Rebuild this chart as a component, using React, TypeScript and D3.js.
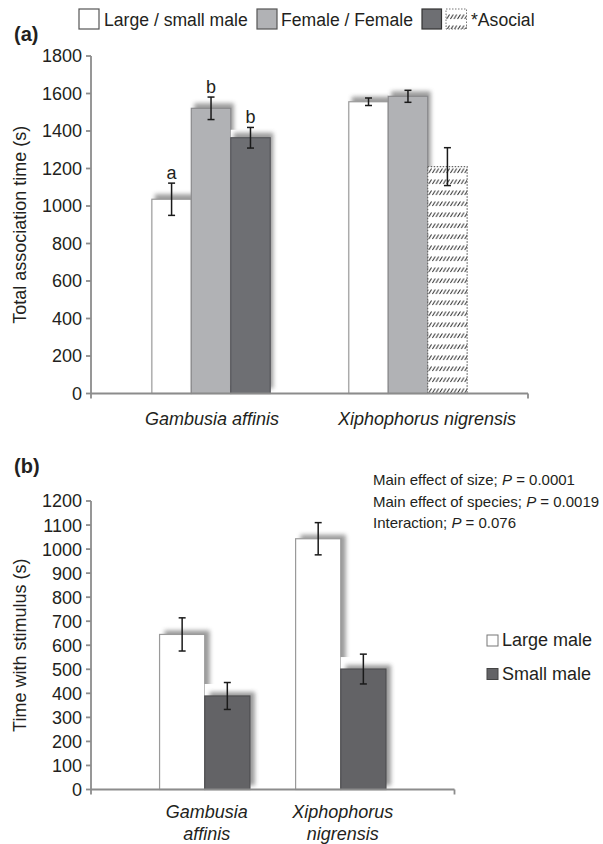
import React from "react"
import * as d3 from "d3"

const FONT = "'Liberation Sans', Arial, Helvetica, sans-serif"

// panel (a): total association time
const SPECIES_A = ["Gambusia affinis", "Xiphophorus nigrensis"]
const TREATMENTS_A = ["Large / small male", "Female / Female", "*Asocial"]
const LARGE_SMALL_MEAN = [1036, 1556]
const LARGE_SMALL_SE = [86, 20]
const FEMALE_MEAN = [1521, 1585]
const FEMALE_SE = [60, 32]
const ASOCIAL_MEAN = [1364, 1210]
const ASOCIAL_SE = [55, 101]
const ASOCIAL_HATCHED = [false, true]
const LETTERS_A = [
  ["a", "b", "b"],
  ["", "", ""],
]
const TICKS_A = [0, 200, 400, 600, 800, 1000, 1200, 1400, 1600, 1800]

// panel (b): time with stimulus
const SPECIES_B = [
  ["Gambusia", "affinis"],
  ["Xiphophorus", "nigrensis"],
]
const SIZES_B = ["Large male", "Small male"]
const LARGE_MEAN = [645, 1043]
const LARGE_SE = [69, 67]
const SMALL_MEAN = [389, 501]
const SMALL_SE = [56, 62]
const TICKS_B = [0, 100, 200, 300, 400, 500, 600, 700, 800, 900, 1000, 1100, 1200]
const STATS_B = [
  ["Main effect of size; ", "0.0001"],
  ["Main effect of species; ", "0.0019"],
  ["Interaction; ", "0.076"],
]

const WHITE = "#ffffff"
const GREY = "#b1b2b5"
const DARK_A = "#6e6f73"
const DARK_B = "#636366"
const AXIS = "#8c8c8c"
const INK = "#231f20"

function Bar({ x, y, w, h, fill, stroke, hatched, shadow, dx, dy, notch }) {
  return (
    <g>
      {shadow && <rect x={x} y={y - notch} width={w} height={h} fill="#fff" />}
      {shadow && (
        <rect x={x + dx} y={y + dy} width={w} height={h} fill="#7a7a7a" opacity={0.75} filter="url(#soft)" />
      )}
      <rect
        x={x}
        y={y}
        width={w}
        height={h}
        fill={hatched ? "url(#hatch)" : fill}
        stroke={stroke}
        strokeWidth={1.2}
        strokeDasharray={hatched ? "1.5,1.5" : undefined}
      />
    </g>
  )
}

function ErrBar({ cx, top, bottom }) {
  return (
    <g stroke="#1a1a1a" strokeWidth={1.5}>
      <line x1={cx} x2={cx} y1={top} y2={bottom} />
      <line x1={cx - 3.5} x2={cx + 3.5} y1={top} y2={top} />
      <line x1={cx - 3.5} x2={cx + 3.5} y1={bottom} y2={bottom} />
    </g>
  )
}

export default function App() {
  // ---- panel (a) scales
  const yA = d3.scaleLinear().domain([0, 1800]).range([393.5, 56])
  const xA = d3.scaleBand().domain(SPECIES_A).range([91, 528]).paddingInner(0.399).paddingOuter(0.309)
  const subA = d3.scaleBand().domain(TREATMENTS_A).range([0, xA.bandwidth()])
  const labelA = d3.scalePoint().domain(SPECIES_A).range([212, 427])

  const seriesA = [
    { key: TREATMENTS_A[0], mean: LARGE_SMALL_MEAN, se: LARGE_SMALL_SE, fill: WHITE, stroke: "#9a9a9a" },
    { key: TREATMENTS_A[1], mean: FEMALE_MEAN, se: FEMALE_SE, fill: GREY, stroke: "#8a8a8d" },
    { key: TREATMENTS_A[2], mean: ASOCIAL_MEAN, se: ASOCIAL_SE, fill: DARK_A, stroke: "#55565a" },
  ]

  // ---- panel (b) scales
  const namesB = SPECIES_B.map((d) => d.join(" "))
  const yB = d3.scaleLinear().domain([0, 1200]).range([789.5, 501])
  const xB = d3.scaleBand().domain(namesB).range([91, 454.5]).paddingInner(0.336).paddingOuter(0.504)
  const subB = d3.scaleBand().domain(SIZES_B).range([0, xB.bandwidth()])

  const seriesB = [
    { key: SIZES_B[0], mean: LARGE_MEAN, se: LARGE_SE, fill: WHITE, stroke: "#9a9a9a" },
    { key: SIZES_B[1], mean: SMALL_MEAN, se: SMALL_SE, fill: DARK_B, stroke: "#4e4e51" },
  ]

  const y0A = yA(0)
  const y0B = yB(0)

  return (
    <svg
      width={603}
      height={844}
      style={{ position: "absolute", left: 0, top: 0, background: "#fff" }}
      fontFamily={FONT}
    >
      <defs>
        <filter id="soft" x="-30%" y="-30%" width="160%" height="160%">
          <feGaussianBlur stdDeviation="2.2" />
        </filter>
        <pattern id="hatch" patternUnits="userSpaceOnUse" width="3.6" height="11">
          <rect width="3.6" height="11" fill="#fff" />
          <line x1="0.4" y1="8" x2="3.2" y2="3.5" stroke="#2a2a2a" strokeWidth="1" />
        </pattern>
      </defs>

      {/* ================= panel (a) ================= */}
      <text x={14} y={41} fontSize={20} fontWeight="bold" fill={INK}>
        (a)
      </text>

      {/* legend (a) */}
      <g fontSize={17.6} fill={INK}>
        <rect x={79} y={9} width={20} height={20} fill={WHITE} stroke="#555" strokeWidth={1.2} />
        <text x={104} y={26}>{TREATMENTS_A[0]}</text>
        <rect x={257} y={9} width={20} height={20} fill={GREY} stroke="#555" strokeWidth={1.2} />
        <text x={281} y={26}>{TREATMENTS_A[1]}</text>
        <rect x={422} y={9} width={19.5} height={20} fill={DARK_A} stroke="#333" strokeWidth={1.2} />
        <rect x={446} y={9} width={20.5} height={20} fill="url(#hatch)" stroke="#777" strokeWidth={1} strokeDasharray="1.5,1.5" />
        <text x={471} y={26}>{TREATMENTS_A[2]}</text>
      </g>

      {/* bars (a) */}
      {SPECIES_A.map((sp, i) => (
        <g key={sp}>
          {seriesA.map((s, j) => {
            const hatched = j === 2 && ASOCIAL_HATCHED[i]
            const x = xA(sp) + subA(s.key)
            return (
              <Bar
                key={s.key}
                x={x}
                y={yA(s.mean[i])}
                w={subA.bandwidth()}
                h={y0A - yA(s.mean[i])}
                fill={s.fill}
                stroke={hatched ? "#666" : s.stroke}
                hatched={hatched}
                shadow={!hatched}
                dx={3}
                dy={-5}
                notch={8}
              />
            )
          })}
        </g>
      ))}
      {SPECIES_A.map((sp, i) =>
        seriesA.map((s, j) => {
          const cx = xA(sp) + subA(s.key) + subA.bandwidth() / 2
          const top = yA(s.mean[i] + s.se[i])
          return (
            <g key={sp + s.key}>
              <ErrBar cx={cx} top={top} bottom={yA(s.mean[i] - s.se[i])} />
              {LETTERS_A[i][j] && (
                <text x={cx} y={top - 4} textAnchor="middle" fontSize={18} fill={INK}>
                  {LETTERS_A[i][j]}
                </text>
              )}
            </g>
          )
        })
      )}

      {/* axes (a) */}
      <g stroke={AXIS} strokeWidth={1.8} fill="none">
        <line x1={91} x2={91} y1={yA(1800)} y2={y0A} />
        <line x1={91} x2={528} y1={y0A} y2={y0A} />
        <line x1={91} x2={91} y1={y0A} y2={y0A + 5} />
        <line x1={528} x2={528} y1={y0A} y2={y0A + 5} />
        {TICKS_A.map((t) => (
          <line key={t} x1={86} x2={91} y1={yA(t)} y2={yA(t)} />
        ))}
      </g>
      <g fontSize={18} fill={INK} textAnchor="end">
        {TICKS_A.map((t) => (
          <text key={t} x={82} y={yA(t)} dy="0.36em">
            {t}
          </text>
        ))}
      </g>
      <text
        transform={`translate(26,${(yA(0) + yA(1800)) / 2}) rotate(-90)`}
        textAnchor="middle"
        fontSize={18}
        fill={INK}
      >
        Total association time (s)
      </text>
      <g fontSize={18} fontStyle="italic" fill={INK} textAnchor="middle">
        {SPECIES_A.map((sp) => (
          <text key={sp} x={labelA(sp)} y={425}>
            {sp}
          </text>
        ))}
      </g>

      {/* ================= panel (b) ================= */}
      <text x={14} y={473} fontSize={20} fontWeight="bold" fill={INK}>
        (b)
      </text>

      <g fontSize={15} fill={INK}>
        {STATS_B.map((s, i) => (
          <text key={i} x={373} y={485 + i * 21.5}>
            {s[0]}
            <tspan fontStyle="italic">P</tspan>
            {" = " + s[1]}
          </text>
        ))}
      </g>

      {/* legend (b) */}
      <g fontSize={18} fill={INK}>
        {seriesB.map((s, j) => (
          <g key={s.key}>
            <rect x={487} y={635 + j * 33.5} width={11} height={11} fill={s.fill} stroke={j === 0 ? "#777" : "#444"} strokeWidth={1} />
            <text x={502} y={646 + j * 33.5}>{s.key}</text>
          </g>
        ))}
      </g>

      {/* bars (b) */}
      {namesB.map((sp, i) => (
        <g key={sp}>
          {seriesB.map((s) => (
            <Bar
              key={s.key}
              x={xB(sp) + subB(s.key)}
              y={yB(s.mean[i])}
              w={subB.bandwidth()}
              h={y0B - yB(s.mean[i])}
              fill={s.fill}
              stroke={s.stroke}
              hatched={false}
              shadow={true}
              dx={5}
              dy={-4}
              notch={12}
            />
          ))}
        </g>
      ))}
      {namesB.map((sp, i) =>
        seriesB.map((s) => (
          <ErrBar
            key={sp + s.key}
            cx={xB(sp) + subB(s.key) + subB.bandwidth() / 2}
            top={yB(s.mean[i] + s.se[i])}
            bottom={yB(s.mean[i] - s.se[i])}
          />
        ))
      )}

      {/* axes (b) */}
      <g stroke={AXIS} strokeWidth={1.8} fill="none">
        <line x1={91} x2={91} y1={yB(1200)} y2={y0B} />
        <line x1={91} x2={454.5} y1={y0B} y2={y0B} />
        <line x1={91} x2={91} y1={y0B} y2={y0B + 5} />
        <line x1={454.5} x2={454.5} y1={y0B} y2={y0B + 5} />
        {TICKS_B.map((t) => (
          <line key={t} x1={86} x2={91} y1={yB(t)} y2={yB(t)} />
        ))}
      </g>
      <g fontSize={18} fill={INK} textAnchor="end">
        {TICKS_B.map((t) => (
          <text key={t} x={82} y={yB(t)} dy="0.36em">
            {t}
          </text>
        ))}
      </g>
      <text
        transform={`translate(26,${(yB(0) + yB(1200)) / 2}) rotate(-90)`}
        textAnchor="middle"
        fontSize={18}
        fill={INK}
      >
        Time with stimulus (s)
      </text>
      <g fontSize={18} fontStyle="italic" fill={INK} textAnchor="middle">
        {SPECIES_B.map((lines, i) => (
          <text key={i} x={xB(namesB[i]) + xB.bandwidth() / 2 + 2} y={818}>
            <tspan x={xB(namesB[i]) + xB.bandwidth() / 2 + 2}>{lines[0]}</tspan>
            <tspan x={xB(namesB[i]) + xB.bandwidth() / 2 + 2} dy={22}>
              {lines[1]}
            </tspan>
          </text>
        ))}
      </g>
    </svg>
  )
}
